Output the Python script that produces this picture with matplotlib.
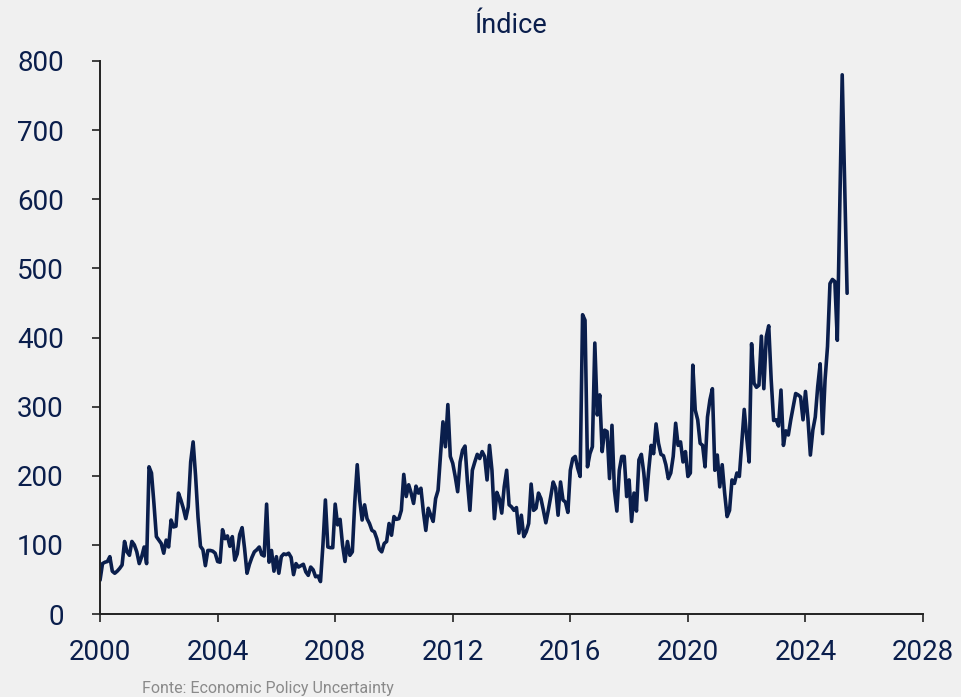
import matplotlib
matplotlib.use("Agg")
import matplotlib.pyplot as plt
import numpy as np

# monthly index values, jan 2000 .. jun 2025 (one row per year)
index_values = [
    49, 73, 75, 76, 83, 62, 59, 62, 66, 71, 105, 90,            # 2000
    85, 105, 100, 90, 73, 83, 97, 73, 213, 204, 160, 112,       # 2001
    107, 102, 88, 107, 97, 136, 126, 127, 175, 165, 153, 138,   # 2002
    155, 220, 249, 200, 140, 98, 93, 70, 92, 92, 91, 88,        # 2003
    76, 75, 122, 109, 113, 98, 112, 78, 87, 115, 125, 95,       # 2004
    59, 72, 82, 90, 93, 97, 86, 84, 159, 75, 92, 62,            # 2005
    83, 59, 83, 87, 86, 88, 82, 57, 73, 68, 70, 72,             # 2006
    61, 56, 68, 64, 54, 55, 47, 100, 165, 97, 96, 96,           # 2007
    159, 129, 137, 100, 76, 105, 85, 90, 162, 216, 165, 136,    # 2008
    158, 138, 131, 121, 119, 109, 94, 90, 102, 105, 131, 114,   # 2009
    141, 137, 138, 150, 202, 170, 187, 175, 160, 185, 175, 182, # 2010
    148, 121, 153, 143, 134, 167, 179, 230, 278, 242, 303, 228, # 2011
    218, 199, 177, 220, 237, 243, 191, 150, 208, 220, 231, 225, # 2012
    235, 228, 194, 244, 208, 138, 176, 167, 146, 184, 208, 158, # 2013
    155, 150, 154, 117, 143, 112, 119, 131, 188, 150, 153, 175, # 2014
    167, 150, 132, 150, 170, 191, 182, 143, 191, 165, 162, 147, # 2015
    208, 225, 228, 211, 199, 433, 425, 213, 232, 242, 392, 288, # 2016
    317, 235, 266, 264, 196, 273, 179, 149, 208, 228, 228, 170, # 2017
    194, 134, 175, 149, 223, 231, 204, 165, 208, 244, 232, 275, # 2018
    247, 231, 229, 216, 196, 204, 228, 276, 244, 249, 220, 235, # 2019
    199, 204, 360, 295, 281, 247, 244, 213, 285, 310, 326, 208, # 2020
    230, 184, 216, 175, 141, 150, 194, 189, 204, 199, 247, 296, # 2021
    256, 220, 391, 334, 328, 331, 402, 326, 401, 417, 339, 280, # 2022
    281, 272, 324, 244, 265, 259, 281, 300, 319, 317, 314, 281, # 2023
    322, 283, 230, 266, 285, 329, 362, 261, 339, 387, 478, 484, # 2024
    481, 396, 590, 780, 620, 464,                               # 2025
]
start_year = 2000

x_ticks = [2000, 2004, 2008, 2012, 2016, 2020, 2024, 2028]
y_ticks = [0, 100, 200, 300, 400, 500, 600, 700, 800]

navy = "#0a1e4c"
bg = "#f0f0f0"

plt.rcParams['font.family'] = ['Roboto', 'DejaVu Sans']

dates = start_year + np.arange(len(index_values)) / 12.0

fig = plt.figure(figsize=(9.62, 6.97), dpi=100, facecolor=bg)
ax = fig.add_axes([0.104, 0.119, 0.8555, 0.7935], facecolor=bg)

ax.plot(dates, index_values, color=navy, linewidth=2.6, solid_joinstyle='round',
        solid_capstyle='round')

ax.set_xlim(2000, 2028)
ax.set_ylim(0, 800)
ax.set_xticks(x_ticks)
ax.set_yticks(y_ticks)
ax.tick_params(axis='both', direction='out', length=6, width=1.2, colors='#222222',
               labelsize=20, labelcolor=navy)
ax.tick_params(axis='y', pad=20)
ax.tick_params(axis='x', pad=12)

for side in ['top', 'right']:
    ax.spines[side].set_visible(False)
for side in ['left', 'bottom']:
    ax.spines[side].set_linewidth(1.4)
    ax.spines[side].set_color('#222222')

fig.text(0.531, 0.963, "Índice", ha='center', va='center', fontsize=19.5, color=navy)
fig.text(0.148, 0.002, "Fonte: Economic Policy Uncertainty", ha='left', va='bottom',
         fontsize=11.5, color='#8a8a8a')

fig.savefig("out.png", dpi=100, facecolor=bg)
